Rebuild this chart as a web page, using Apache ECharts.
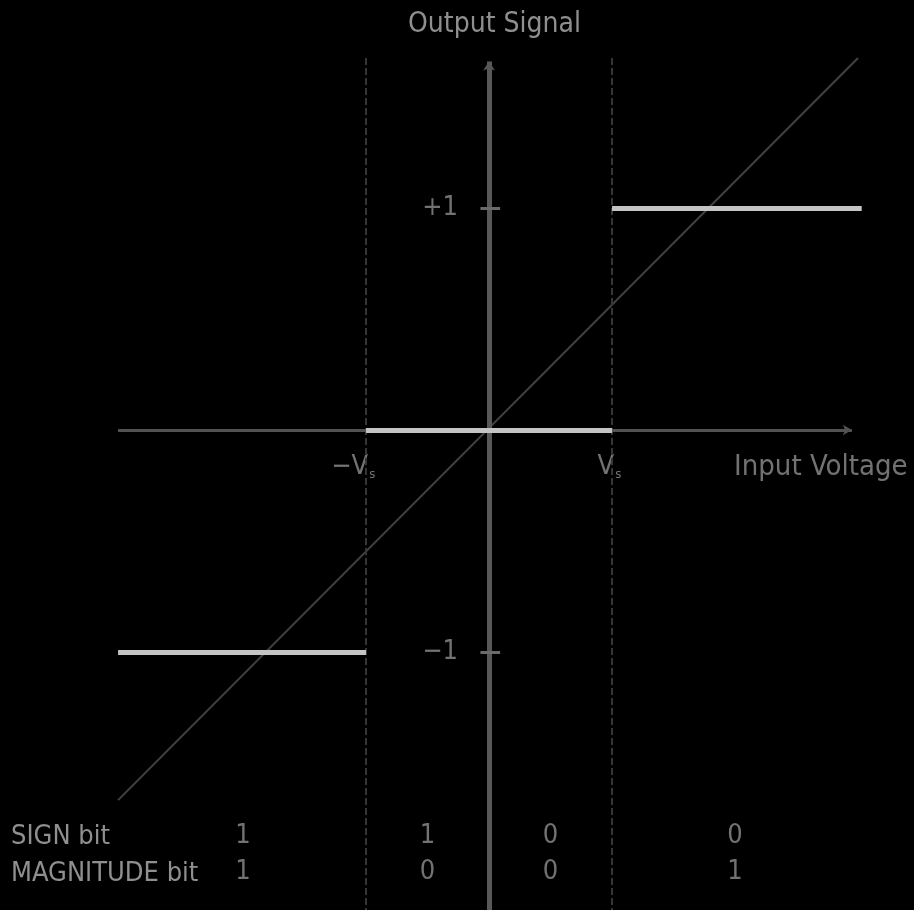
<!DOCTYPE html>
<html>
<head>
<meta charset="utf-8">
<script src="https://cdn.jsdelivr.net/npm/echarts@6/dist/echarts.min.js"></script>
<style>
  html, body { margin: 0; padding: 0; background: #000; }
  #main { width: 914px; height: 910px; }
</style>
</head>
<body>
<div id="main"></div>
<script>
// thresholds -Vs / +Vs on the input axis (in units of Vs)
const thresholds = [-1, 1];
const thresholdLabels = ['−V', 'V'];
// output levels
const outputTicks = [1, -1];
const outputTickLabels = ['+1', '−1'];
// quantizer steps: [xStart, xEnd, level]
const steps = [
  [-3.016, -1, -1],
  [-1, 1, 0],
  [1, 3.03, 1]
];
// ideal (unquantized) transfer line
const idealLine = [[-3.016, -1.667], [3.0, 1.676]];
// region centres for the bit table
const regionCenters = [-2, -0.5, 0.5, 2];
const signBits = ['1', '1', '0', '0'];
const magnitudeBits = ['1', '0', '0', '1'];
const rowNames = ['SIGN bit', 'MAGNITUDE bit'];

const textColor = '#8f8f8f';
const font = "'DejaVu Sans Condensed', 'Liberation Sans Narrow', sans-serif";
const yBottom = -2.162;

const chart = echarts.init(document.getElementById('main'));

function labelSeries(data, position, extra) {
  return Object.assign({
    type: 'scatter',
    symbolSize: 0,
    silent: true,
    data: data,
    label: {
      show: true, position: position, distance: 0,
      formatter: p => p.value[2],
      color: textColor, fontFamily: font, fontSize: 27
    }
  }, extra || {});
}

chart.setOption({
  backgroundColor: '#000',
  animation: false,
  title: {
    text: 'Output Signal',
    left: 403,
    top: 6,
    textStyle: { color: textColor, fontFamily: font, fontSize: 28, fontWeight: 'normal' }
  },
  grid: { left: 0, right: 0, top: 0, bottom: 0 },
  xAxis: { type: 'value', min: -3.976, max: 3.455, show: false },
  yAxis: { type: 'value', min: yBottom, max: 1.937, show: false },
  graphic: rowNames.map((name, i) => ({
    type: 'text',
    left: 11,
    top: 823 + i * 37,
    style: { text: name, fill: textColor, font: '27px ' + font }
  })),
  series: [
    {
      // dashed threshold lines
      type: 'line',
      data: [],
      silent: true,
      markLine: {
        symbol: 'none',
        label: { show: false },
        lineStyle: { color: '#363636', width: 2, type: [7, 3] },
        data: thresholds.map(t => [{ coord: [t, 1.676] }, { coord: [t, yBottom] }])
      }
    },
    {
      // vertical (output) axis
      type: 'line',
      data: [],
      silent: true,
      markLine: {
        symbol: ['none', 'arrow'],
        symbolSize: [9, 9],
        label: { show: false },
        lineStyle: { color: '#585858', width: 5, type: 'solid' },
        data: [[{ coord: [0, yBottom] }, { coord: [0, 1.66] }]]
      }
    },
    {
      // horizontal (input) axis
      type: 'line',
      data: [],
      silent: true,
      markLine: {
        symbol: ['none', 'arrow'],
        symbolSize: [8, 9],
        label: { show: false },
        lineStyle: { color: '#525252', width: 3, type: 'solid' },
        data: [[{ coord: [-3.016, 0] }, { coord: [2.95, 0] }]]
      }
    },
    {
      // tick marks on the output axis
      type: 'line',
      data: [],
      silent: true,
      markLine: {
        symbol: 'none',
        label: { show: false },
        lineStyle: { color: '#6a6a6a', width: 3, type: 'solid' },
        data: outputTicks.map(v => [{ coord: [-0.07, v] }, { coord: [0.09, v] }])
      }
    },
    {
      // ideal line
      type: 'line',
      data: idealLine,
      symbol: 'none',
      silent: true,
      lineStyle: { color: '#424242', width: 2 }
    },
    {
      // quantized output
      type: 'line',
      data: [],
      silent: true,
      z: 5,
      markLine: {
        symbol: 'none',
        label: { show: false },
        lineStyle: { color: '#c4c4c4', width: 5, type: 'solid', cap: 'butt' },
        data: steps.map(s => [{ coord: [s[0], s[2]] }, { coord: [s[1], s[2]] }])
      }
    },
    // output tick labels
    labelSeries(outputTicks.map((v, i) => [-0.252, v, outputTickLabels[i]]), 'left'),
    // threshold labels with subscript s
    labelSeries(thresholds.map((t, i) => [t + 0.075, -0.167, thresholdLabels[i]]), 'left', {
      label: {
        show: true, position: 'left', distance: 0,
        formatter: p => '{v|' + p.value[2] + '}{s|s}',
        rich: {
          v: { color: textColor, fontFamily: font, fontSize: 27 },
          s: { color: textColor, fontFamily: font, fontSize: 13, padding: [16, 0, 0, 1] }
        }
      }
    }),
    // input axis name
    labelSeries([[1.992, -0.167, 'Input Voltage']], 'right', {
      label: {
        show: true, position: 'right', distance: 0,
        formatter: p => p.value[2],
        color: textColor, fontFamily: font, fontSize: 29
      }
    }),
    // bit table
    labelSeries(regionCenters.map((c, i) => [c, -1.829, signBits[i]]), 'inside'),
    labelSeries(regionCenters.map((c, i) => [c, -1.991, magnitudeBits[i]]), 'inside')
  ]
});
</script>
</body>
</html>
